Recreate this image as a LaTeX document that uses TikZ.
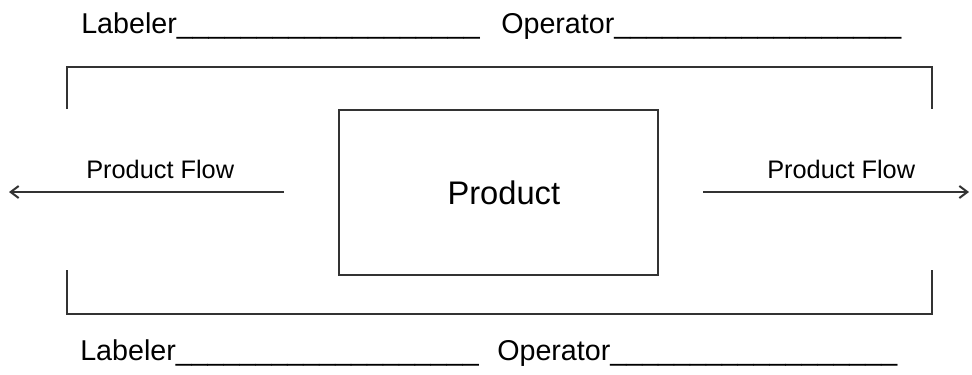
\documentclass[tikz,border=0pt]{standalone}
\usepackage{fontspec}
\setmainfont{Liberation Sans}
\usetikzlibrary{arrows.meta}

\newcommand{\blanks}[1]{\foreach \i in {1,...,#1}{\_}}

\begin{document}
\begin{tikzpicture}[x=0.75pt,y=-0.75pt,>={Straight Barb[length=6pt,width=9pt]},
  edge/.style={line width=1.5pt,black!80},
  sign/.style={inner sep=0pt,anchor=base west,font=\fontsize{21.5}{24}\selectfont},
  flowtext/.style={inner sep=0pt,anchor=base west,font=\fontsize{19}{22}\selectfont}]
\useasboundingbox (0,0) rectangle (972,375);

% sign-off lines
\node[sign] (labtop) at (81,33) {Labeler\blanks{19}};
\node[sign] (optop) at (501,33) {Operator\blanks{18}};
\node[sign] (labbot) at (80,360) {Labeler\blanks{19}};
\node[sign] (opbot) at (497,360) {Operator\blanks{18}};

% brackets
\draw[edge] (67,109) -- (67,67) -- (932,67) -- (932,109);
\draw[edge] (67,270) -- (67,314) -- (932,314) -- (932,270);

\node[draw,edge,minimum width=239.25pt,minimum height=123.75pt,inner sep=0pt,
  font=\fontsize{24.5}{28}\selectfont,text=black] (product) at (498.5,192.5) {\hspace{8pt}Product};

% flow arrows
\coordinate (lstart) at (284,192);
\coordinate (lend) at (9,192);
\coordinate (rstart) at (703,192);
\coordinate (rend) at (969,192);
\draw[edge,->] (lstart) -- (lend);
\draw[edge,->] (rstart) -- (rend);
\node[flowtext] (lflow) at (86,178) {Product Flow};
\node[flowtext] (rflow) at (767,178) {Product Flow};
\end{tikzpicture}
\end{document}
